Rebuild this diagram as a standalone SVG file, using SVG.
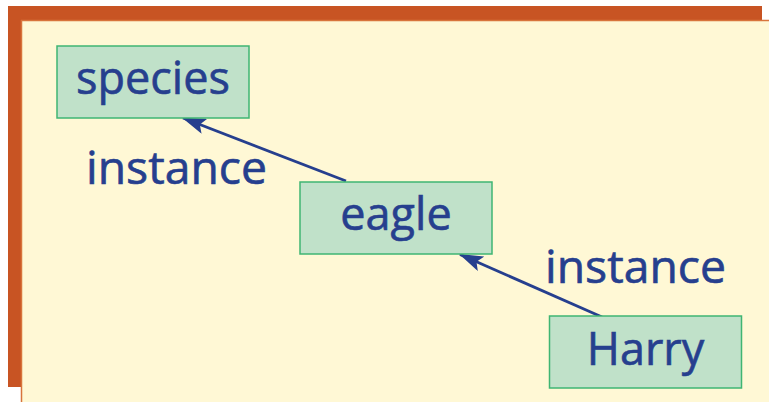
<svg xmlns="http://www.w3.org/2000/svg" width="769" height="402" viewBox="0 0 769 402">
  <style>
    .node rect { fill: #c0e1c9; stroke: #3fb573; stroke-width: 1.5; }
    .label { font-family: "Open Sans", "Liberation Sans", sans-serif; font-size: 45px; fill: #263f8e; stroke: #263f8e; stroke-width: 0.6; }
    .edge { stroke: #263f8e; stroke-width: 2.8; fill: none; marker-end: url(#head); }
  </style>
  <defs>
    <marker id="head" viewBox="0 0 24 16" refX="23" refY="8" markerWidth="24" markerHeight="16" markerUnits="userSpaceOnUse" orient="auto">
      <path d="M0,0 L24,8 L0,16 L5,8 Z" fill="#263f8e"/>
    </marker>
  </defs>

  <!-- backdrop: orange frame with cream panel offset over it -->
  <rect x="0" y="0" width="769" height="402" fill="#ffffff"/>
  <rect x="8" y="6" width="754" height="381" fill="#c85423"/>
  <rect x="21.5" y="20.5" width="750" height="385" fill="#fff8d5" stroke="#d8743c" stroke-width="1.5"/>

  <!-- connectors -->
  <g id="connectors">
    <line class="edge" x1="346" y1="181" x2="183" y2="118"/>
    <line class="edge" x1="602" y1="317" x2="460" y2="254.5"/>
    <text class="label" x="86" y="184" textLength="181" lengthAdjust="spacingAndGlyphs">instance</text>
    <text class="label" x="545" y="283" textLength="181" lengthAdjust="spacingAndGlyphs">instance</text>
  </g>

  <g id="species" class="node">
    <rect x="57" y="46" width="192" height="72"/>
    <text class="label" x="153" y="94" text-anchor="middle">species</text>
  </g>

  <g id="eagle" class="node">
    <rect x="300" y="182" width="192" height="72"/>
    <text class="label" x="396" y="230" text-anchor="middle">eagle</text>
  </g>

  <g id="harry" class="node">
    <rect x="549.5" y="316" width="192" height="72"/>
    <text class="label" x="645.5" y="365" text-anchor="middle">Harry</text>
  </g>
</svg>
